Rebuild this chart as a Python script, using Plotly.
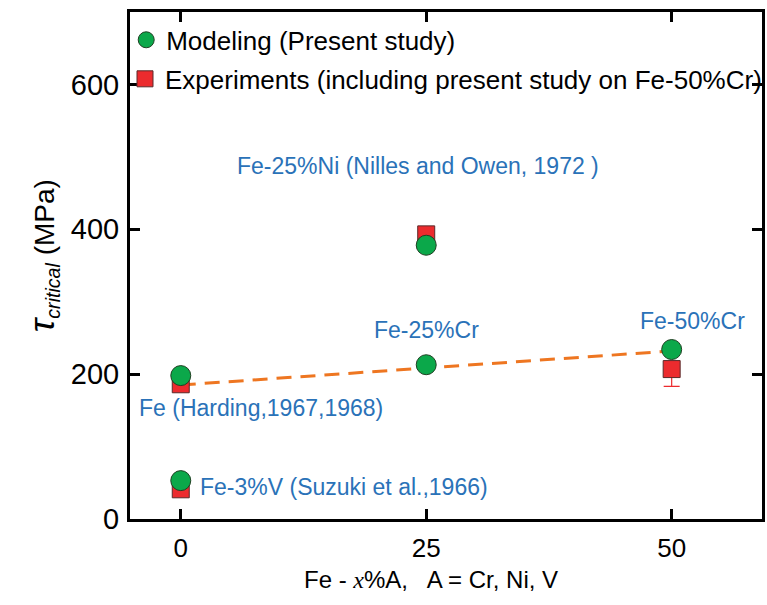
"""Critical shear stress of Fe alloys: modeling vs experiments."""
import plotly.graph_objects as go

# composition x (%) of solute A
model_x = [0, 0, 25, 25, 50]
model_tau = [198, 53, 378, 213, 234]

exp_x = [0, 0, 25, 50]
exp_tau = [186, 41, 393, 207]
exp_err_minus = [0, 0, 0, 24]

trend_x = [0, 50]
trend_tau = [185, 232]

# (text, x, y, anchor)
labels = [
    ("Fe-25%Ni (Nilles and Owen, 1972 )", 24.2, 487, "center"),
    ("Fe-25%Cr", 25, 261, "center"),
    ("Fe-50%Cr", 52.1, 274, "center"),
    ("Fe (Harding,1967,1968)", -4.5, 153, "left"),
    ("Fe-3%V (Suzuki et al.,1966)", 1.8, 44, "left"),
]

FONT = "Liberation Sans, Arial, sans-serif"
BLUE = "#2A72B8"

fig = go.Figure()

fig.add_trace(go.Scatter(
    x=trend_x, y=trend_tau,
    mode="lines",
    line=dict(color="#EE7621", width=3, dash="15px,9px"),
    showlegend=False,
    hoverinfo="skip",
))

fig.add_trace(go.Scatter(
    x=exp_x, y=exp_tau,
    mode="markers",
    name="Experiments (including present study on Fe-50%Cr)",
    marker=dict(symbol="square", size=17, color="#EC2B2E",
                line=dict(color="#5a2a2a", width=1)),
    error_y=dict(type="data", symmetric=False,
                 array=[0] * len(exp_x), arrayminus=exp_err_minus,
                 color="#EC2B2E", thickness=1.2, width=8),
    legend="legend2",
))

fig.add_trace(go.Scatter(
    x=model_x, y=model_tau,
    mode="markers",
    name="Modeling (Present study)",
    marker=dict(symbol="circle", size=20, color="#0BA84A",
                line=dict(color="#1f3f22", width=1)),
    legend="legend",
))

for text, x, y, anchor in labels:
    fig.add_annotation(
        x=x, y=y, text=text, showarrow=False, xanchor=anchor,
        font=dict(family=FONT, size=23, color=BLUE),
    )

axis_common = dict(
    showline=True, linecolor="black", linewidth=3, mirror="ticks",
    ticks="inside", ticklen=10, tickwidth=2.5, tickcolor="black",
    showgrid=False, zeroline=False,
)

legend_common = dict(
    xanchor="left", yanchor="middle", bgcolor="rgba(0,0,0,0)",
    font=dict(family=FONT, size=26, color="black"),
)

fig.update_layout(
    width=767, height=605,
    margin=dict(l=130, r=2, t=12, b=86),
    plot_bgcolor="white",
    paper_bgcolor="white",
    xaxis=dict(range=[-5.17, 59.2], tickvals=[0, 25, 50], ticklabelstandoff=4,
               tickfont=dict(family=FONT, size=26, color="black"),
               **axis_common),
    yaxis=dict(range=[0, 700], tickvals=[0, 200, 400, 600], ticklabelstandoff=2,
               tickfont=dict(family=FONT, size=29, color="black"),
               **axis_common),
    legend=dict(x=-0.006, y=0.945, **legend_common),
    legend2=dict(x=-0.006, y=0.868, **legend_common),
)

fig.add_annotation(
    xref="paper", yref="paper", x=-0.138, y=0.52, xanchor="center",
    text="<span style='font-size:36px'><i>τ</i></span>"
         "<sub><i>critical</i></sub> (MPa)",
    textangle=-90, showarrow=False,
    font=dict(family=FONT, size=28, color="black"),
)
fig.add_annotation(
    xref="paper", yref="paper", x=0.476, y=-0.12,
    xanchor="center", yanchor="middle",
    text="Fe - <i><span style='font-family:Liberation Serif'>x</span></i>%A,   A = Cr, Ni, V",
    showarrow=False,
    font=dict(family=FONT, size=24, color="black"),
)

fig.write_html("out.html", config={"displayModeBar": False},
               post_script="document.body.style.margin = '0';")
